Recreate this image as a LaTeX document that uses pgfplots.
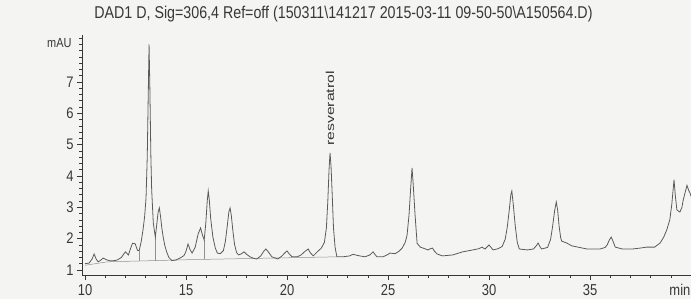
\documentclass[border=0pt]{standalone}
\usepackage{fontspec}
\setmainfont{Liberation Sans}
\usepackage{pgfplots}
\pgfplotsset{compat=1.18}
\definecolor{ink}{RGB}{55,55,55}
\definecolor{trace}{RGB}{90,90,90}
\definecolor{bline}{RGB}{145,145,145}
\definecolor{paper}{RGB}{244,245,243}
\begin{document}
\begin{tikzpicture}
\fill[paper] (0,0) rectangle (691bp,299bp);
\path[use as bounding box] (0,0) rectangle (691bp,299bp);
\node[font=\fontsize{14.3}{16}\selectfont, text=ink] at (343.5bp,285bp)
  {\scalebox{1}[1.2]{DAD1 D, Sig=306,4 Ref=off (150311\textbackslash 141217 2015-03-11 09-50-50\textbackslash A150564.D)}};
\begin{axis}[
  at={(82bp,24bp)}, anchor=south west, scale only axis,
  width=609bp, height=240bp,
  xmin=9.85, xmax=40, ymin=0.84, ymax=8.5,
  axis x line=bottom, axis y line=left,
  axis line style={ink, -, line width=0.7pt},
  clip=false,
  xtick={10,15,20,25,30,35},
  minor xtick={10,11,...,40},
  ytick={1,2,3,4,5,6,7},
  minor ytick={1,1.2,...,8.45},
  tick align=outside,
  major tick length=5bp, minor tick length=3bp,
  every tick/.style={ink, line width=0.6pt},
  /pgf/number format/assume math mode=true,
  tick label style={font=\fontsize{13}{13}\selectfont, text=ink},
  xticklabel={\scalebox{1}[1.22]{\pgfmathprintnumber{\tick}}},
  yticklabel={\scalebox{1}[1.18]{\pgfmathprintnumber{\tick}}},
  xticklabel style={yshift=-1bp},
]
% integration baseline and drop lines
\addplot[bline, line width=0.5pt] coordinates {(10.0,1.15) (11.1,1.26) (15.2,1.33) (22.45,1.42)};
\addplot[bline, line width=0.5pt] coordinates {(12.68,1.28) (12.68,1.62)};
\addplot[bline, line width=0.5pt] coordinates {(13.48,1.29) (13.48,2.05)};
\addplot[bline, line width=0.5pt] coordinates {(15.9,1.34) (15.9,1.96)};
% chromatogram trace
\addplot[trace, line width=0.8pt] coordinates {
(10.0,1.20) (10.2,1.22) (10.35,1.35) (10.45,1.51) (10.55,1.35) (10.65,1.26)
(10.75,1.30) (10.9,1.38) (11.05,1.33) (11.25,1.29) (11.45,1.30) (11.6,1.32)
(11.8,1.40) (11.93,1.52) (12.0,1.58) (12.15,1.48) (12.25,1.68) (12.35,1.85)
(12.48,1.84) (12.6,1.62) (12.68,1.62) (12.78,1.90) (12.87,2.28) (12.95,2.70)
(13.02,3.30) (13.08,4.60) (13.13,6.60) (13.17,8.20) (13.21,6.80) (13.26,4.60)
(13.3,3.55) (13.38,2.50) (13.48,2.05) (13.55,2.45) (13.62,2.85) (13.68,2.98)
(13.74,2.70) (13.8,2.35) (13.87,2.05) (13.95,1.78) (14.04,1.58) (14.15,1.40)
(14.3,1.30) (14.5,1.32) (14.7,1.38) (14.9,1.46) (15.0,1.60) (15.1,1.83)
(15.2,1.65) (15.3,1.54) (15.45,1.72) (15.6,2.15) (15.72,2.34) (15.82,2.10)
(15.9,1.96) (15.98,2.50) (16.05,3.20) (16.1,3.52) (16.15,3.25) (16.22,2.65)
(16.33,2.05) (16.45,1.70) (16.55,1.54) (16.7,1.52) (16.85,1.62) (16.95,1.92)
(17.05,2.45) (17.12,2.85) (17.18,2.98) (17.24,2.75) (17.32,2.25) (17.4,1.82)
(17.5,1.56) (17.6,1.48) (17.75,1.52) (17.87,1.58) (18.0,1.50) (18.17,1.42)
(18.35,1.37) (18.5,1.35) (18.7,1.45) (18.85,1.60) (18.95,1.67) (19.05,1.60)
(19.25,1.42) (19.55,1.35) (19.75,1.45) (19.9,1.55) (20.0,1.61) (20.1,1.52)
(20.25,1.42) (20.5,1.42) (20.7,1.48) (20.9,1.60) (21.05,1.67) (21.15,1.55)
(21.3,1.45) (21.5,1.58) (21.7,1.70) (21.85,1.88) (21.95,2.35) (22.02,3.20)
(22.08,4.20) (22.13,4.74) (22.18,4.30) (22.24,3.35) (22.3,2.35) (22.38,1.72)
(22.47,1.42) (22.77,1.42) (23.1,1.45) (23.27,1.50) (23.45,1.47) (23.6,1.45)
(23.86,1.42) (24.1,1.48) (24.26,1.58) (24.35,1.50) (24.45,1.42) (24.75,1.42)
(24.95,1.48) (25.1,1.54) (25.35,1.52) (25.55,1.60) (25.7,1.70) (25.85,1.88)
(25.94,2.10) (26.04,2.75) (26.12,3.60) (26.19,4.26) (26.25,3.70) (26.34,2.75)
(26.44,1.85) (26.6,1.73) (26.73,1.70) (26.98,1.64) (27.1,1.68) (27.2,1.70)
(27.3,1.60) (27.43,1.51) (27.7,1.45) (28.2,1.48) (28.7,1.58) (29.2,1.64)
(29.5,1.68) (29.65,1.73) (29.8,1.67) (30.0,1.80) (30.2,1.64) (30.45,1.68)
(30.65,1.75) (30.8,1.98) (30.9,2.35) (31.0,2.90) (31.08,3.40) (31.13,3.52)
(31.2,3.10) (31.3,2.40) (31.4,1.88) (31.5,1.67) (31.9,1.64) (32.2,1.67)
(32.35,1.78) (32.43,1.86) (32.52,1.75) (32.6,1.67) (32.9,1.72) (33.05,1.98)
(33.15,2.40) (33.25,2.90) (33.33,3.17) (33.4,2.90) (33.47,2.40) (33.55,2.02)
(33.6,1.92) (33.85,1.86) (34.1,1.77) (34.4,1.73) (34.85,1.67) (35.5,1.67)
(35.75,1.72) (35.85,1.80) (35.95,1.95) (36.05,2.05) (36.15,1.90) (36.25,1.73)
(36.6,1.67) (37.1,1.67) (37.5,1.70) (37.8,1.73) (38.2,1.73) (38.47,1.86)
(38.65,2.05) (38.8,2.28) (38.95,2.60) (39.05,3.10) (39.12,3.60) (39.16,3.88)
(39.22,3.40) (39.3,2.92) (39.4,2.87) (39.45,2.85) (39.55,3.00) (39.62,3.25)
(39.7,3.45) (39.8,3.70) (39.88,3.55) (39.95,3.46) (40.0,3.35)
};
\node[rotate=90, anchor=west, font=\fontsize{11.5}{11.5}\selectfont, text=ink]
  at (axis cs:22.13,4.85) {\scalebox{1.38}[1]{resveratrol}};
\node[anchor=east, font=\fontsize{11}{11}\selectfont, text=ink]
  at (axis cs:9.85,8.25) [xshift=-7bp] {\scalebox{1}[1.2]{mAU}};
\node[anchor=north, font=\fontsize{13}{13}\selectfont, text=ink]
  at (axis cs:39.45,0.84) [yshift=-6bp] {\scalebox{1}[1.2]{min}};
\end{axis}
\end{tikzpicture}
\end{document}
